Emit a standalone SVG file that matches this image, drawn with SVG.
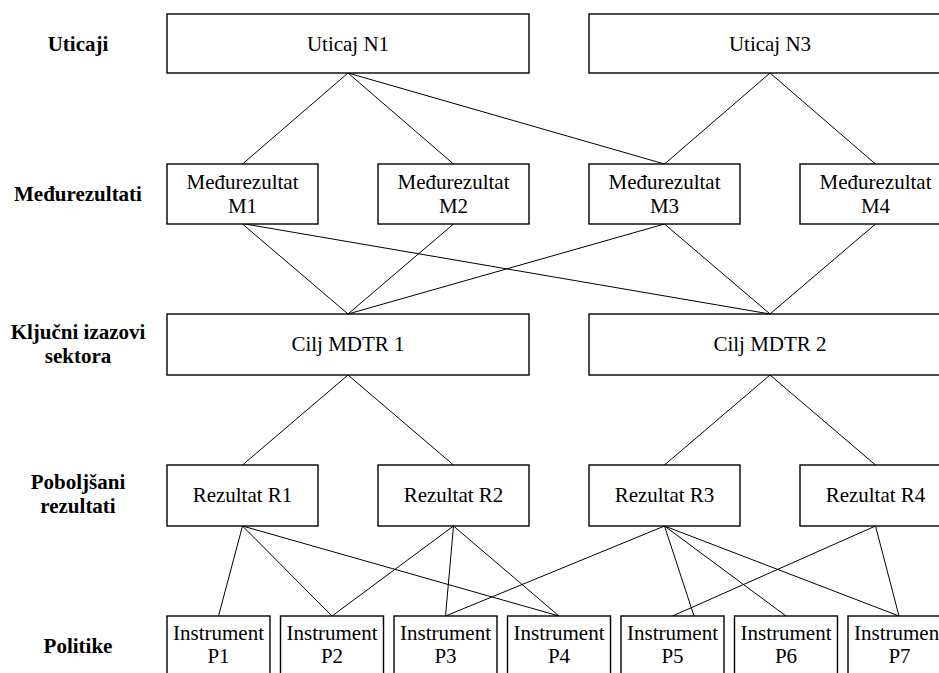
<svg xmlns="http://www.w3.org/2000/svg" width="939" height="673" viewBox="0 0 939 673">
  <style>
    .box { fill: #ffffff; stroke: #000000; stroke-width: 1.4; }
    text { font-family: 'Liberation Serif', 'Times New Roman', Times, serif; font-size: 21px; fill: #000000; text-anchor: middle; }
    .lvl { font-weight: bold; }
    .edge { stroke: #000000; stroke-width: 1; fill: none; }
  </style>
  <rect width="939" height="673" fill="#ffffff"/>

  <!-- level titles -->
  <g id="levels">
    <text class="lvl" x="78" y="51">Uticaji</text>
    <text class="lvl" x="78" y="201">Međurezultati</text>
    <text class="lvl" x="78" y="339">Ključni izazovi</text>
    <text class="lvl" x="78" y="363">sektora</text>
    <text class="lvl" x="78" y="489">Poboljšani</text>
    <text class="lvl" x="78" y="513">rezultati</text>
    <text class="lvl" x="78" y="653">Politike</text>
  </g>

  <!-- connectors -->
  <g id="connectors">
    <!-- impacts to intermediate results -->
    <line class="edge" x1="348" y1="73" x2="242.5" y2="164"/>
    <line class="edge" x1="348" y1="73" x2="453.5" y2="164"/>
    <line class="edge" x1="348" y1="73" x2="664.5" y2="164"/>
    <line class="edge" x1="770" y1="73" x2="664.5" y2="164"/>
    <line class="edge" x1="770" y1="73" x2="875.5" y2="164"/>
    <!-- intermediate results to goals -->
    <line class="edge" x1="242.5" y1="224" x2="348" y2="314"/>
    <line class="edge" x1="453.5" y1="224" x2="348" y2="314"/>
    <line class="edge" x1="664.5" y1="224" x2="348" y2="314"/>
    <line class="edge" x1="245" y1="224" x2="770" y2="314"/>
    <line class="edge" x1="664.5" y1="224" x2="770" y2="314"/>
    <line class="edge" x1="875.5" y1="224" x2="770" y2="314"/>
    <!-- goals to results -->
    <line class="edge" x1="348" y1="375" x2="242.5" y2="465"/>
    <line class="edge" x1="348" y1="375" x2="453.5" y2="465"/>
    <line class="edge" x1="770" y1="375" x2="664.5" y2="465"/>
    <line class="edge" x1="770" y1="375" x2="875.5" y2="465"/>
    <!-- results to instruments -->
    <line class="edge" x1="242.5" y1="526" x2="218.5" y2="616" stroke-width="1.5"/>
    <line class="edge" x1="242.5" y1="526" x2="332" y2="616"/>
    <line class="edge" x1="242.5" y1="526" x2="559" y2="616"/>
    <line class="edge" x1="453.5" y1="526" x2="332" y2="616"/>
    <line class="edge" x1="453.5" y1="526" x2="445.5" y2="616"/>
    <line class="edge" x1="453.5" y1="526" x2="559" y2="616"/>
    <line class="edge" x1="664.5" y1="526" x2="445.5" y2="616"/>
    <line class="edge" x1="664.5" y1="526" x2="694" y2="616"/>
    <line class="edge" x1="664.5" y1="526" x2="786" y2="616"/>
    <line class="edge" x1="664.5" y1="526" x2="899" y2="616"/>
    <line class="edge" x1="875.5" y1="526" x2="672.5" y2="616"/>
    <line class="edge" x1="875.5" y1="526" x2="899" y2="616"/>
  </g>

  <!-- impacts -->
  <g id="n1">
    <rect class="box" x="167" y="14" width="362" height="59"/>
    <text x="348" y="50.5">Uticaj N1</text>
  </g>
  <g id="n3">
    <rect class="box" x="589" y="14" width="362" height="59"/>
    <text x="770" y="50.5">Uticaj N3</text>
  </g>

  <!-- intermediate results -->
  <g id="m1">
    <rect class="box" x="167" y="164" width="151" height="60"/>
    <text x="242.5" y="188.5">Međurezultat</text>
    <text x="242.5" y="213">M1</text>
  </g>
  <g id="m2">
    <rect class="box" x="378" y="164" width="151" height="60"/>
    <text x="453.5" y="188.5">Međurezultat</text>
    <text x="453.5" y="213">M2</text>
  </g>
  <g id="m3">
    <rect class="box" x="589" y="164" width="151" height="60"/>
    <text x="664.5" y="188.5">Međurezultat</text>
    <text x="664.5" y="213">M3</text>
  </g>
  <g id="m4">
    <rect class="box" x="800" y="164" width="151" height="60"/>
    <text x="875.5" y="188.5">Međurezultat</text>
    <text x="875.5" y="213">M4</text>
  </g>

  <!-- sector goals -->
  <g id="goal1">
    <rect class="box" x="167" y="314" width="362" height="61"/>
    <text x="348" y="351">Cilj MDTR 1</text>
  </g>
  <g id="goal2">
    <rect class="box" x="589" y="314" width="362" height="61"/>
    <text x="770" y="351">Cilj MDTR 2</text>
  </g>

  <!-- improved results -->
  <g id="r1">
    <rect class="box" x="167" y="465" width="151" height="61"/>
    <text x="242.5" y="502">Rezultat R1</text>
  </g>
  <g id="r2">
    <rect class="box" x="378" y="465" width="151" height="61"/>
    <text x="453.5" y="502">Rezultat R2</text>
  </g>
  <g id="r3">
    <rect class="box" x="589" y="465" width="151" height="61"/>
    <text x="664.5" y="502">Rezultat R3</text>
  </g>
  <g id="r4">
    <rect class="box" x="800" y="465" width="151" height="61"/>
    <text x="875.5" y="502">Rezultat R4</text>
  </g>

  <!-- policy instruments -->
  <g id="p1">
    <rect class="box" x="167" y="616" width="103" height="62"/>
    <text x="218.5" y="640">Instrument</text>
    <text x="218.5" y="663">P1</text>
  </g>
  <g id="p2">
    <rect class="box" x="280.5" y="616" width="103" height="62"/>
    <text x="332" y="640">Instrument</text>
    <text x="332" y="663">P2</text>
  </g>
  <g id="p3">
    <rect class="box" x="394" y="616" width="103" height="62"/>
    <text x="445.5" y="640">Instrument</text>
    <text x="445.5" y="663">P3</text>
  </g>
  <g id="p4">
    <rect class="box" x="507.5" y="616" width="103" height="62"/>
    <text x="559" y="640">Instrument</text>
    <text x="559" y="663">P4</text>
  </g>
  <g id="p5">
    <rect class="box" x="621" y="616" width="103" height="62"/>
    <text x="672.5" y="640">Instrument</text>
    <text x="672.5" y="663">P5</text>
  </g>
  <g id="p6">
    <rect class="box" x="734.5" y="616" width="103" height="62"/>
    <text x="786" y="640">Instrument</text>
    <text x="786" y="663">P6</text>
  </g>
  <g id="p7">
    <rect class="box" x="848" y="616" width="103" height="62"/>
    <text x="899.5" y="640">Instrument</text>
    <text x="899.5" y="663">P7</text>
  </g>
</svg>
